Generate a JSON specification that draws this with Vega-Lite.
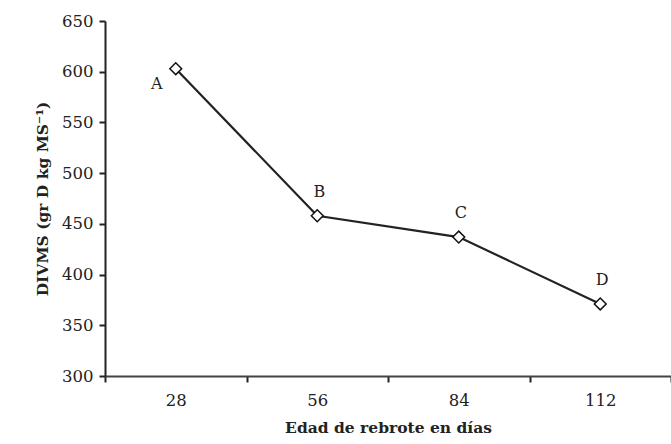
{
  "$schema": "https://vega.github.io/schema/vega-lite/v6.json",
  "autosize": "none",
  "width": 566,
  "height": 355,
  "padding": {"left": 105, "top": 21, "right": 0, "bottom": 68},
  "background": "white",
  "config": {
    "view": {"stroke": null},
    "font": "DejaVu Serif",
    "axis": {"grid": false, "labelFont": "DejaVu Serif", "titleFont": "DejaVu Serif", "labelColor": "#222", "titleColor": "#222", "labelFontSize": 16.5, "titleFontSize": 15.5, "domainWidth": 2, "tickWidth": 2, "tickSize": 6}
  },
  "data": {"values": [
    {"dias": "28", "divms": 603, "letra": "A"},
    {"dias": "56", "divms": 458, "letra": "B"},
    {"dias": "84", "divms": 437, "letra": "C"},
    {"dias": "112", "divms": 371, "letra": "D"}
  ]},
  "encoding": {
    "x": {"field": "dias", "type": "ordinal", "sort": null,
      "scale": {"paddingInner": 0, "paddingOuter": 0},
      "axis": {"title": "Edad de rebrote en días", "labelAngle": 0, "tickBand": "extent", "labelPadding": 10, "titlePadding": 12, "titleFontWeight": "bold", "domainColor": "#444", "tickColor": "#222"}},
    "y": {"field": "divms", "type": "quantitative",
      "scale": {"domain": [300, 650], "nice": false, "zero": false},
      "axis": {"title": "DIVMS (gr D kg MS⁻¹)", "values": [300, 350, 400, 450, 500, 550, 600, 650], "tickCount": 8, "labelPadding": 6, "titlePadding": 11, "titleFontWeight": "bold", "domainColor": "#222", "tickColor": "#222"}}
  },
  "layer": [
    {"mark": {"type": "line", "color": "#222", "strokeWidth": 2.2}},
    {"mark": {"type": "point", "shape": "diamond", "filled": true, "fill": "white", "stroke": "#111", "strokeWidth": 1.5, "size": 140, "opacity": 1}},
    {"transform": [{"filter": "datum.letra == 'A'"}],
     "mark": {"type": "text", "dx": -19, "dy": 15, "fontSize": 16, "color": "#222", "font": "DejaVu Serif"},
     "encoding": {"text": {"field": "letra"}}},
    {"transform": [{"filter": "datum.letra != 'A'"}],
     "mark": {"type": "text", "dx": 2, "dy": -24, "fontSize": 16, "color": "#222", "font": "DejaVu Serif"},
     "encoding": {"text": {"field": "letra"}}}
  ]
}
